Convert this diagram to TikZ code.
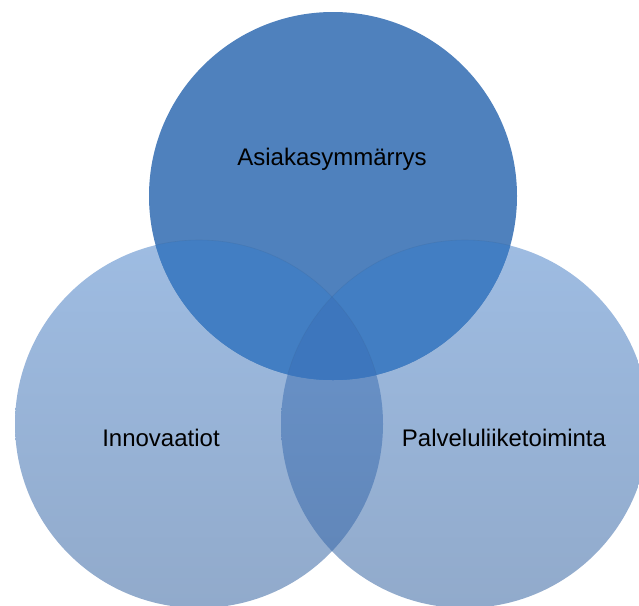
\documentclass[tikz,border=0pt]{standalone}
\usepackage{fontspec}
\setmainfont{Liberation Sans}
\definecolor{lighttop}{RGB}{158,188,226}
\definecolor{lightbot}{RGB}{145,170,203}
\definecolor{lenstop}{RGB}{108,150,205}
\definecolor{lensbot}{RGB}{95,132,182}
\definecolor{topcol}{RGB}{79,129,189}
\definecolor{topover}{RGB}{66,126,195}
\definecolor{triple}{RGB}{61,118,189}
\tikzset{
  label text/.style={font=\fontsize{24pt}{26pt}\selectfont, text=black, inner sep=0pt},
}
\begin{document}
\begin{tikzpicture}[x=1pt,y=-1pt]
\useasboundingbox (0,0) rectangle (639,605);
\clip (0,0) rectangle (639,605);
\fill[white] (0,0) rectangle (639,605);
% light circles
\shade[top color=lighttop, bottom color=lightbot] (199,424) circle[radius=184];
\shade[top color=lighttop, bottom color=lightbot] (465,424) circle[radius=184];
% lens between the light circles
\begin{scope}
  \clip (199,424) circle[radius=184];
  \shade[top color=lenstop, bottom color=lensbot] (465,424) circle[radius=184];
\end{scope}
% top circle
\fill[topcol] (333,196) circle[radius=184];
\begin{scope}
  \clip (333,196) circle[radius=184];
  \fill[topover] (199,424) circle[radius=184];
  \fill[topover] (465,424) circle[radius=184];
  \clip (199,424) circle[radius=184];
  \fill[triple] (465,424) circle[radius=184];
\end{scope}
\begin{scope}
  \clip (333,196) circle[radius=184];
  \draw[topcol!80!black, opacity=0.25, line width=0.6pt] (199,424) circle[radius=184];
  \draw[topcol!80!black, opacity=0.25, line width=0.6pt] (465,424) circle[radius=184];
\end{scope}
% labels
\node[label text] (asiakas) at (332,159) {Asiakasymmärrys};
\node[label text] (inno) at (161,438) {Innovaatiot};
\node[label text] (palvelu) at (504,438) {Palveluliiketoiminta};
\end{tikzpicture}
\end{document}
